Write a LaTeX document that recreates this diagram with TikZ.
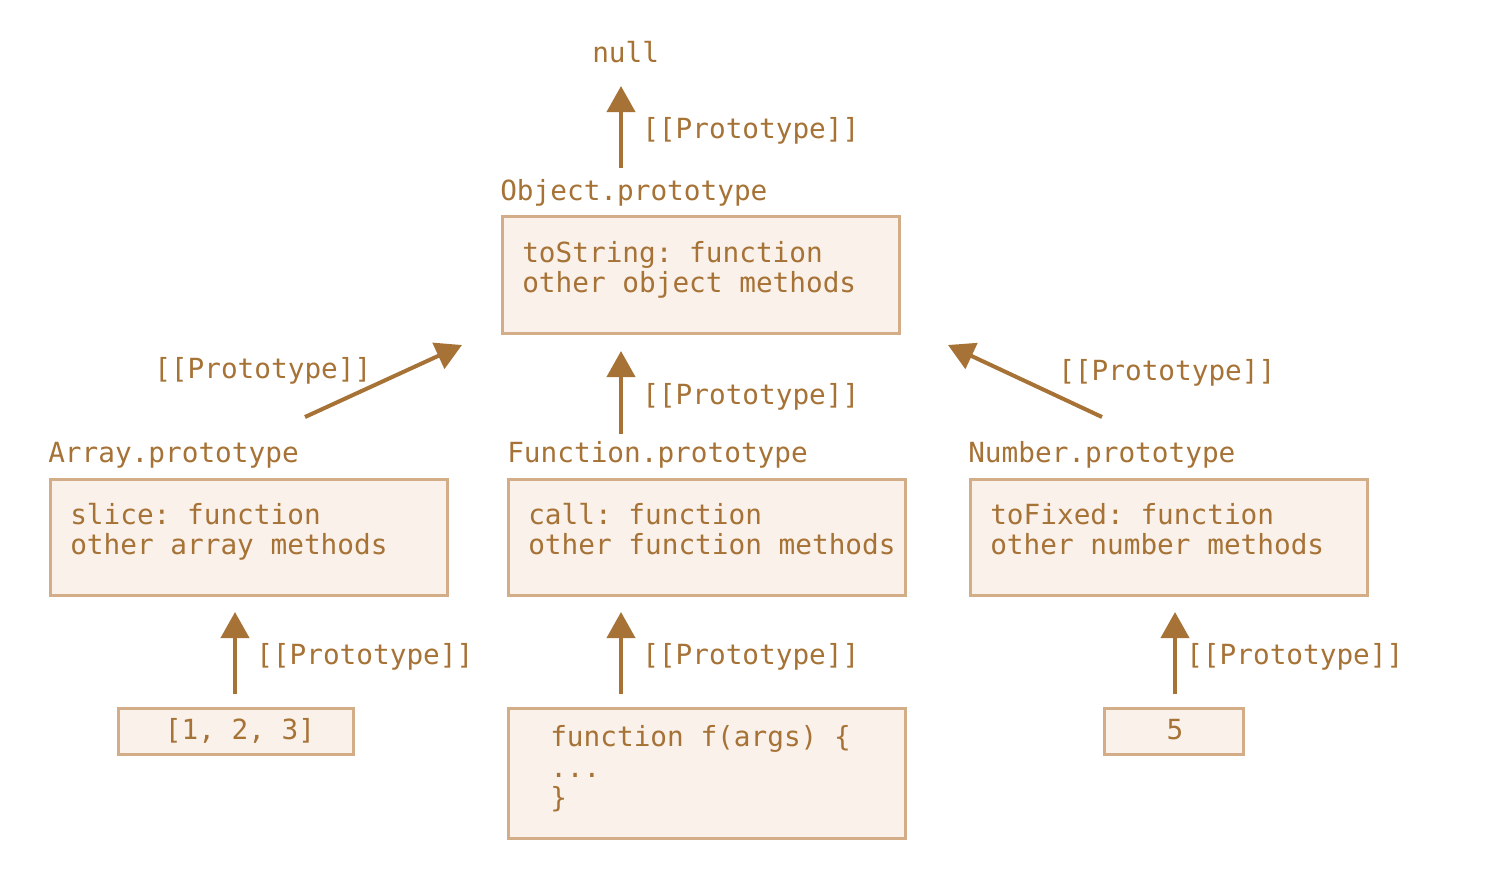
\documentclass[tikz,border=0pt]{standalone}
\usepackage{fontspec}
\setmonofont{DejaVu Sans Mono}
\usetikzlibrary{arrows.meta}
\definecolor{brn}{HTML}{A67236}
\definecolor{bxline}{HTML}{D3AD87}
\definecolor{bxfill}{HTML}{FAF1EB}
\tikzset{
  txt/.style={inner sep=0pt, anchor=base west, text=brn, font=\ttfamily\fontsize{20.8}{25}\selectfont},
  ctxt/.style={txt, anchor=base},
  objbox/.style={draw=bxline, fill=bxfill, line width=2.25pt, inner sep=0pt, anchor=north west},
  arr/.style={draw=brn, line width=3pt, -{Triangle[length=19.5pt,width=21pt]}}
}
\begin{document}
\begin{tikzpicture}[x=0.75pt,y=-0.75pt]
\useasboundingbox (0,0) rectangle (1492,886);
% boxes
\node[objbox, minimum width=397*0.75pt, minimum height=117*0.75pt] (bobj) at (501,215) {};
\node[objbox, minimum width=397*0.75pt, minimum height=116*0.75pt] (barr) at (49,478) {};
\node[objbox, minimum width=397*0.75pt, minimum height=116*0.75pt] (bfun) at (507,478) {};
\node[objbox, minimum width=397*0.75pt, minimum height=116*0.75pt] (bnum) at (969,478) {};
\node[objbox, minimum width=235*0.75pt, minimum height=46*0.75pt] (blit) at (117,707) {};
\node[objbox, minimum width=397*0.75pt, minimum height=130*0.75pt] (bf) at (507,707) {};
\node[objbox, minimum width=139*0.75pt, minimum height=46*0.75pt] (b5) at (1103,707) {};
% texts
\node[txt] (null) at (592,62) {null};
\node[txt] (tobj) at (500,200) {Object.prototype};
\node[txt] (o1) at (522,262) {toString: function};
\node[txt] (o2) at (522,292) {other object methods};
\node[txt] (tarr) at (48,462) {Array.prototype};
\node[txt] (tfun) at (507,462) {Function.prototype};
\node[txt] (tnum) at (968,462) {Number.prototype};
\node[txt] (a1) at (70,524) {slice: function};
\node[txt] (a2) at (70,554) {other array methods};
\node[txt] (f1) at (528,524) {call: function};
\node[txt] (f2) at (528,554) {other function methods};
\node[txt] (n1) at (990,524) {toFixed: function};
\node[txt] (n2) at (990,554) {other number methods};
\node[ctxt] (lit) at (240,739) {[1, 2, 3]};
\node[txt] (fa) at (550,746) {function f(args) \{};
\node[txt] (fb) at (550,777) {...};
\node[txt] (fc) at (550,807) {\}};
\node[ctxt] (five) at (1175,739) {5};
% labels
\node[txt] (p0) at (642,138) {[[Prototype]]};
\node[txt] (p1) at (154,378) {[[Prototype]]};
\node[txt] (p2) at (642,404) {[[Prototype]]};
\node[txt] (p3) at (1058,380) {[[Prototype]]};
\node[txt] (p4) at (256,664) {[[Prototype]]};
\node[txt] (p5) at (642,664) {[[Prototype]]};
\node[txt] (p6) at (1186,664) {[[Prototype]]};
% arrow ends
\coordinate (s0) at (621,168); \coordinate (e0) at (621,86);
\coordinate (s1) at (305,417); \coordinate (e1) at (462,345);
\coordinate (s2) at (621,434); \coordinate (e2) at (621,351);
\coordinate (s3) at (1102,417); \coordinate (e3) at (948,345);
\coordinate (s4) at (235,694); \coordinate (e4) at (235,612);
\coordinate (s5) at (621,694); \coordinate (e5) at (621,612);
\coordinate (s6) at (1175,694); \coordinate (e6) at (1175,612);
\draw[arr] (s0) -- (e0);
\draw[arr] (s1) -- (e1);
\draw[arr] (s2) -- (e2);
\draw[arr] (s3) -- (e3);
\draw[arr] (s4) -- (e4);
\draw[arr] (s5) -- (e5);
\draw[arr] (s6) -- (e6);
\end{tikzpicture}
\end{document}
